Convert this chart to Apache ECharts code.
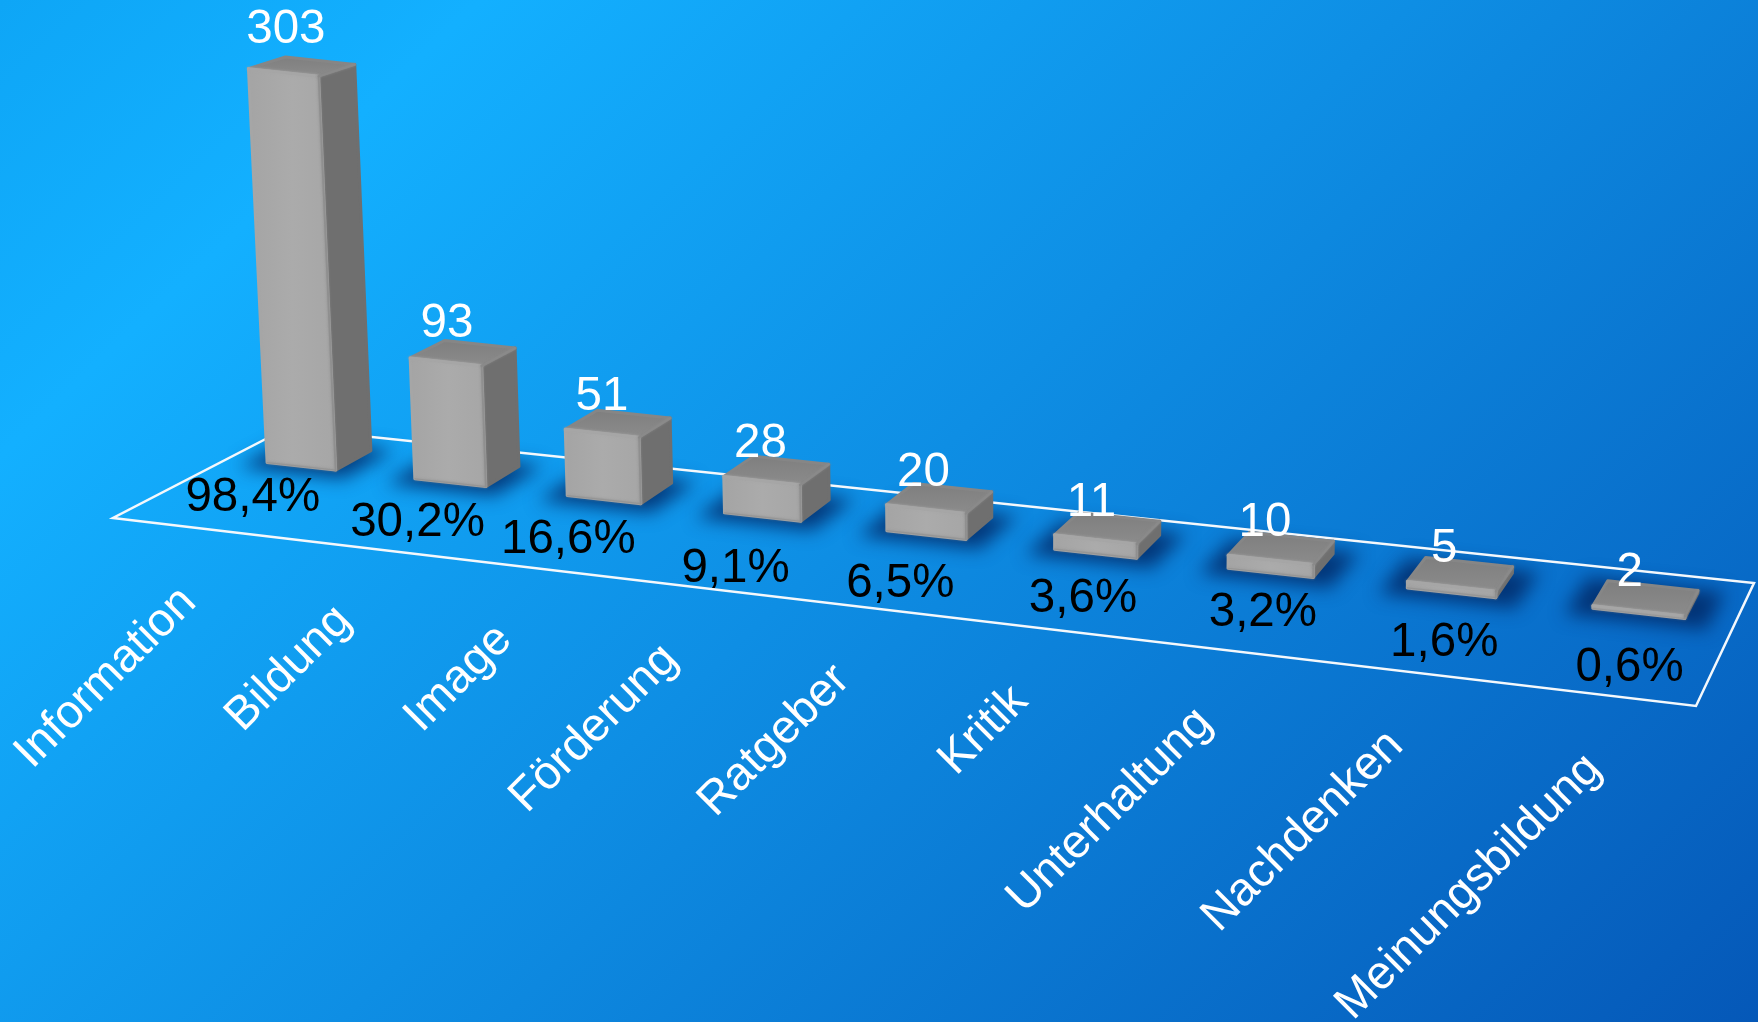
<!DOCTYPE html>
<html>
<head>
<meta charset="utf-8">
<style>html,body{margin:0;padding:0;background:#0a7ad8}#chart{width:1758px;height:1022px}</style>
<script src="https://cdn.jsdelivr.net/npm/echarts@6/dist/echarts.min.js"></script>
</head>
<body>
<div id="chart"></div>
<script>
// Chart data
const categories = ['Information','Bildung','Image','Förderung','Ratgeber','Kritik','Unterhaltung','Nachdenken','Meinungsbildung'];
const counts = [303, 93, 51, 28, 20, 11, 10, 5, 2];
const shares = ['98,4%','30,2%','16,6%','9,1%','6,5%','3,6%','3,2%','1,6%','0,6%'];

// Floor plane corners on screen: front-left, front-right, back-right, back-left
const FLOOR = [[113,518],[1696,706],[1754,583],[287,428]];
// Vanishing point of the vertical edges
const VP = [1050, 17000];
const BAR_SHARE = 0.475;     // bar width within its category band
const BAR_FRONT = 0.645, BAR_BACK = 0.865;   // bar extent across the floor depth
const BAND_BOW = 0.018;      // slight bulge in the spacing of the category bands
const TOP_FORESHORTEN = 0.001;  // tops of tall bars are seen at a flatter angle
const SHARE_DEPTH = 0.24, SHARE_BAND_SHIFT = 0.16;
const CATEGORY_DROP = 68;    // category labels hang below the floor's front edge
const OFF_STAGE = 4000;      // shadow casters sit off the canvas, only their blur shows

// Per-label fine placement of the percentage texts
const shareNudgeX = [-3, 8, 0, 3, -2, 5, 3, -4, -14];
const shareNudgeY = [-8, -1, -3, 8, 3, -2, -9, -1, 1];

const FONT_VALUE = '47.5px "Liberation Sans", Arial, sans-serif';
const FONT_CATEGORY = '46.8px "Liberation Sans", Arial, sans-serif';

// Projective map from the unit floor square to the screen
const floorMap = (function () {
  const [[x0,y0],[x1,y1],[x2,y2],[x3,y3]] = FLOOR;
  const sx = x0-x1+x2-x3, sy = y0-y1+y2-y3;
  const dx1 = x1-x2, dx2 = x3-x2, dy1 = y1-y2, dy2 = y3-y2;
  const den = dx1*dy2-dx2*dy1;
  const g = (sx*dy2-dx2*sy)/den, h = (dx1*sy-sx*dy1)/den;
  const a = x1-x0+g*x1, b = x3-x0+h*x3, d = y1-y0+g*y1, e = y3-y0+h*y3;
  return function (u, v) {
    const w = g*u+h*v+1;
    return [(a*u+b*v+x0)/w, (d*u+e*v+y0)/w];
  };
})();

// Raises a floor point by a screen height, leaning towards the vanishing point
function lift(p, height) {
  const t = height/(VP[1]-p[1]);
  return [p[0]+(p[0]-VP[0])*t, p[1]+(p[1]-VP[1])*t];
}

// Raises a back corner, flattening the depth of the top face as the bar grows
function liftBack(back, front, height) {
  const b = lift(back, height), f = lift(front, height);
  return [b[0], f[1]+(b[1]-f[1])*(1-TOP_FORESHORTEN*height)];
}

// Reads a category band and a bar height from the chart's axes
function bandOf(api, index, value) {
  const base = api.coord([index, 0]);
  const top = api.coord([index, value]);
  const band = api.size([1, 0])[0];
  const total = band*categories.length;
  const u = base[0]/total;
  return {centre: u+BAND_BOW*u*(1-u), half: BAR_SHARE*band/total/2, height: base[1]-top[1], full: band/total};
}

function quad(points, style) {
  return {type:'polygon', shape:{points}, style};
}

function edge(points, stroke, width) {
  return {type:'polyline', shape:{points}, style:{fill:null, stroke, lineWidth:width, lineCap:'round', lineJoin:'round',
    shadowBlur:3, shadowColor:stroke}};
}

function renderFloor() {
  return {type:'polygon', shape:{points:[floorMap(0,0),floorMap(1,0),floorMap(1,1),floorMap(0,1)]},
    style:{fill:null, stroke:'#f4f8fc', lineWidth:2.5, lineJoin:'miter'}};
}

function renderShadow(params, api) {
  const b = bandOf(api, api.value(0), api.value(1));
  const u0 = b.centre-b.half*1.5, u1 = b.centre+b.half*1.55;
  const pts = [floorMap(u0,BAR_FRONT-0.07),floorMap(u1,BAR_FRONT-0.07),floorMap(u1,BAR_BACK+0.03),floorMap(u0,BAR_BACK+0.03)]
    .map(p => [p[0]-OFF_STAGE, p[1]]);
  return quad(pts, {fill:'#000', shadowBlur:18, shadowOffsetX:OFF_STAGE, shadowColor:'rgba(2,42,104,0.85)'});
}

function renderBar(params, api) {
  const b = bandOf(api, api.value(0), api.value(1));
  const u0 = b.centre-b.half, u1 = b.centre+b.half;
  const fl = floorMap(u0,BAR_FRONT), fr = floorMap(u1,BAR_FRONT), br = floorMap(u1,BAR_BACK), bl = floorMap(u0,BAR_BACK);
  const tfl = lift(fl,b.height), tfr = lift(fr,b.height);
  const tbr = liftBack(br,fr,b.height), tbl = liftBack(bl,fl,b.height);
  const front = {type:'linear', x:0, y:0, x2:1, y2:0, colorStops:[
    {offset:0,color:'#a4a4a4'},{offset:0.5,color:'#ababab'},{offset:1,color:'#a6a6a6'}]};
  const top = {type:'linear', x:0, y:0, x2:0, y2:1, colorStops:[
    {offset:0,color:'#7e7e7e'},{offset:1,color:'#8c8c8c'}]};
  return {type:'group', children:[
    quad([fr,br,tbr,tfr], {fill:'#6f6f6f', stroke:'#6f6f6f', lineWidth:3, lineJoin:'round'}),
    quad([tfl,tfr,tbr,tbl], {fill:top, stroke:'#868686', lineWidth:3, lineJoin:'round'}),
    quad([fl,fr,tfr,tfl], {fill:front, stroke:'#a6a6a6', lineWidth:3, lineJoin:'round'}),
    edge([fl,fr], '#959595', 1.2),
    edge([tfl,tfr], '#a6a6a6', 2.5),
    edge([tfr,fr], '#8f8f8f', 1.8),
    edge([tfr,tbr], '#8a8a8a', 2.2)
  ]};
}

function renderValueLabel(params, api) {
  const i = api.value(0);
  const b = bandOf(api, i, api.value(1));
  const c = lift(floorMap(b.centre,(BAR_FRONT+BAR_BACK)/2), b.height);
  return {type:'text', x:c[0]-16, y:c[1]-25-b.height*0.02, style:{text:String(counts[i]), fill:'#ffffff', font:FONT_VALUE, align:'center', verticalAlign:'middle'}};
}

function renderShareLabel(params, api) {
  const i = api.value(0);
  const b = bandOf(api, i, api.value(1));
  const p = floorMap(b.centre+b.full*SHARE_BAND_SHIFT, SHARE_DEPTH);
  return {type:'text', x:p[0]+shareNudgeX[i], y:p[1]+shareNudgeY[i], style:{text:shares[i], fill:'#000000', font:FONT_VALUE, align:'center', verticalAlign:'middle'}};
}

function renderCategoryLabel(params, api) {
  const i = api.value(0);
  const b = bandOf(api, i, 0);
  const p = floorMap(b.centre, 0);
  return {type:'text', x:p[0], y:p[1]+CATEGORY_DROP, rotation:Math.PI/4, style:{text:categories[i], fill:'#ffffff', font:FONT_CATEGORY, align:'right', verticalAlign:'middle'}};
}

const rows = counts.map((v, i) => [i, v]);
const layer = (name, renderItem, data, z) => ({
  type:'custom', name, coordinateSystem:'cartesian2d', renderItem, data, z, clip:false, silent:true,
  encode:{x:0, y:1}, animation:false
});

const chart = echarts.init(document.getElementById('chart'), null, {renderer:'canvas'});
chart.setOption({
  animation:false,
  backgroundColor:{type:'linear', global:true, x:0, y:0, x2:1341, y2:1414, colorStops:[
    {offset:0,color:'#0ea6f6'},{offset:0.17,color:'#13b0ff'},{offset:0.5,color:'#0e8ee4'},{offset:1,color:'#0558b8'}]},
  grid:{left:0, right:0, bottom:0, height:520},
  xAxis:{type:'category', data:categories, show:false},
  yAxis:{type:'value', min:0, max:400, show:false},
  tooltip:{show:false},
  series:[
    layer('shadows', renderShadow, rows, 1),
    layer('floor', renderFloor, [[0,0]], 2),
    layer('bars', renderBar, rows, 3),
    layer('counts', renderValueLabel, rows, 4),
    layer('shares', renderShareLabel, rows, 5),
    layer('categories', renderCategoryLabel, rows, 5)
  ]
});
</script>
</body>
</html>
